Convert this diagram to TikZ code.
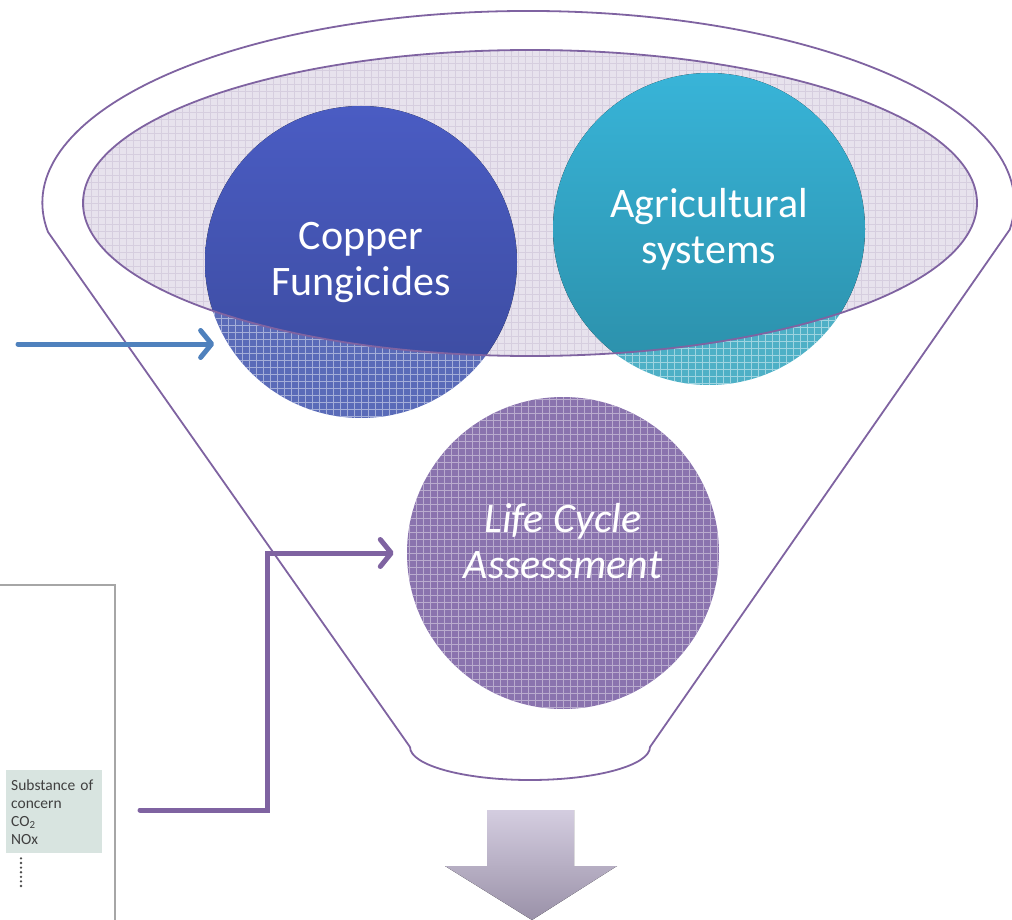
\documentclass[tikz,border=0pt]{standalone}
\usepackage{fontspec}
\setmainfont{Carlito}
\usetikzlibrary{arrows.meta}

\definecolor{funnelline}{HTML}{7F63A1}
\definecolor{mapblue}{HTML}{4F81BD}
\definecolor{rimfill}{HTML}{E7E2ED}
\definecolor{rimgrid}{HTML}{D6CEDF}
\definecolor{copperA}{HTML}{4A5CC3}
\definecolor{copperB}{HTML}{3B4A9C}
\definecolor{copperhatch}{HTML}{5A6BB8}
\definecolor{agriA}{HTML}{38B4D8}
\definecolor{agriB}{HTML}{2B8EA8}
\definecolor{agrihatch}{HTML}{4EB0C6}
\definecolor{lcahatch}{HTML}{8A73AE}
\definecolor{tablefill}{HTML}{D8E4E0}
\definecolor{downA}{HTML}{D4CDE0}
\definecolor{downB}{HTML}{9A91A8}

\tikzset{
    funnel/.style={draw=funnelline, line width=1.8pt},
    gridded/.style={path picture={
        \draw[draw=#1, line width=0.9pt]
            (path picture bounding box.south west) grid[step=7pt]
            (path picture bounding box.north east);}},
    gridded/.default=white!75,
    bubble/.style={circle, minimum size=312pt, inner sep=0pt},
    bubbletext/.style={text=white, align=center, font=\fontsize{42}{46}\selectfont},
    feed/.style={line width=5pt, line cap=round,
        -{Straight Barb[length=11pt, width=27pt, round]}}
}

\begin{document}
\begin{tikzpicture}[x=1pt, y=-1pt]
    % Canvas: 1012 x 920, y runs downwards
    \useasboundingbox (0,0) rectangle (1012,920);

    % Funnel outline: rim, both sides and the spout
    \draw[funnel] (410,747) -- (48,232)
        arc[start angle=188.7, end angle=-8, x radius=486pt, y radius=192pt]
        -- (650,747)
        arc[start angle=0, end angle=-180, x radius=120pt, y radius=33pt];

    % Bubbles, hatched where they hang below the rim
    \node[bubble, fill=copperhatch, gridded=white!45!copperhatch] (copper) at (361,262) {};
    \node[bubble, fill=agrihatch, gridded=white!45!agrihatch] (agri) at (709,229) {};
    \node[bubble, fill=lcahatch, gridded=white!40!lcahatch] (lca) at (563,553) {};

    % Rim of the funnel
    \path[fill=rimfill, gridded=rimgrid] (530,203) ellipse[x radius=447pt, y radius=153pt];
    \begin{scope}
        \clip (530,203) ellipse[x radius=447pt, y radius=153pt];
        \fill[top color=copperA, bottom color=copperB] (copper.center) circle[radius=156pt];
        \fill[top color=agriA, bottom color=agriB] (agri.center) circle[radius=156pt];
    \end{scope}
    \draw[funnel] (530,203) ellipse[x radius=447pt, y radius=153pt];

    % Labels
    \node[bubbletext] (coppertext) at (copper) {Copper\\Fungicides};
    \node[bubbletext] (agritext) at (agri) {Agricultural\\systems};
    \node[bubbletext, font=\fontsize{42}{46}\selectfont\itshape] (lcatext) at (563,541) {Life Cycle\\Assessment};

    % Cropped table on the left
    \draw[draw=gray!70, line width=1.2pt] (0,585) -- (115,585) -- (115,925);
    \node[fill=tablefill, anchor=north west, text width=86pt, minimum height=83pt,
        inner xsep=5pt, inner ysep=4pt, align=left, text=black!75,
        font=\fontsize{15.5}{18}\selectfont] (substance) at (6,770)
        {Substance of\\concern\\CO\textsubscript{2}\\NOx};
    \draw[black!70, line width=2.6pt, line cap=round, dash pattern=on 0pt off 4.6pt]
        ([xshift=15pt, yshift=-5pt]substance.south west) -- ++(0,29);

    % Inputs into the funnel
    \coordinate (mapsrc) at (18,344);
    \coordinate (tablesrc) at (140,810);
    \draw[feed, mapblue, shorten >=13pt] (mapsrc) -- (mapsrc -| copper.211.6);
    \draw[feed, funnelline, shorten >=13pt] (tablesrc) -- ++(127,0) |- (lca.west);

    % Output of the funnel
    \fill[top color=downA, bottom color=downB] (487,810) -- (574,810) -- (574,866)
        -- (617,866) -- (532,920) -- (445,866) -- (487,866) -- cycle;
\end{tikzpicture}
\end{document}
